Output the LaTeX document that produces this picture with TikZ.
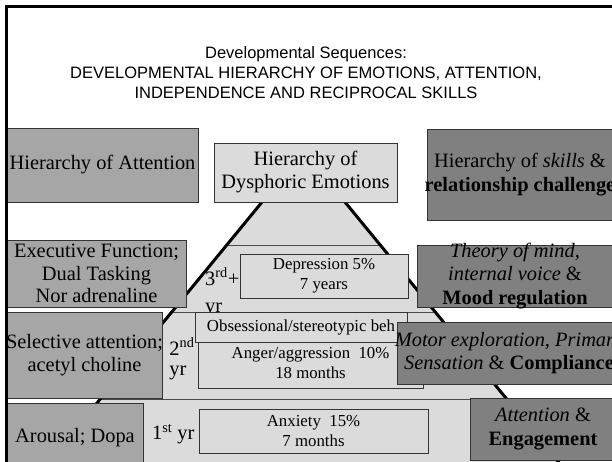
\documentclass[tikz,border=0pt]{standalone}
\usepackage{fontspec}
\setmainfont{Liberation Serif}
\newfontfamily\headfont{Liberation Sans}
\usepackage{tikz}
\usetikzlibrary{positioning, calc}
\definecolor{pyrgrey}{rgb}{0.86,0.86,0.86}
\definecolor{midgrey}{rgb}{0.65,0.65,0.65}
\definecolor{drkgrey}{rgb}{0.5,0.5,0.5}
\tikzstyle{pg}=[%
      rectangle, draw=black!80, line width=0.8pt, fill=pyrgrey,
      inner sep=0pt, align=center, font=\fontsize{16.8}{20}\selectfont
]
\tikzstyle{lg}=[%
      rectangle, draw=black!80, line width=0.8pt, fill=midgrey,
      inner xsep=-1pt, inner ysep=0pt, align=center, font=\fontsize{20.4}{22.5}\selectfont
]
\tikzstyle{dg}=[%
      rectangle, draw=black!80, line width=0.8pt, fill=drkgrey,
      inner xsep=-3pt, inner ysep=-2pt, align=center, font=\fontsize{20.4}{23.5}\selectfont
]
\tikzstyle{yl}=[%
      inner sep=0pt, align=left, font=\fontsize{20.4}{23}\selectfont
]
\tikzstyle{hd}=[%
      inner sep=0pt, align=center, font=\headfont\fontsize{16.5}{20}\selectfont
]

\begin{document}
\begin{tikzpicture}[x=1pt, y=-1pt]
    \useasboundingbox (0,0) rectangle (612,461);
    \clip (0,0) rectangle (612,461);
    \fill[white] (0,0) rectangle (612,461);

    % pyramid with its layers
    \coordinate (pyrTL) at (267,196);
    \coordinate (pyrTR) at (340,196);
    \coordinate (pyrBR) at (565,470);
    \coordinate (pyrBL) at (42,470);
    \fill[pyrgrey] (pyrTL) -- (pyrTR) -- (pyrBR) -- (pyrBL) -- cycle;
    \begin{scope}
      \clip (pyrTL) -- (pyrTR) -- (pyrBR) -- (pyrBL) -- cycle;
      \foreach \ly in {245,312,399}
        \draw[black!70, line width=0.8pt] (0,\ly) -- (612,\ly);
    \end{scope}
    \draw[line width=3pt] (pyrTL) -- (pyrBL);
    \draw[line width=3pt] (pyrTR) -- (pyrBR);

    \node[yl, anchor=west] (yrThree) at (205,292) {3\textsuperscript{rd}+\\[4pt]yr};

    \node[pg, minimum width=168, minimum height=44] (depr) at (324,276) {Depression 5\%\\7 years};
    \node[pg, minimum width=225, minimum height=50] (angr) at (310.5,363) {Anger/aggression\ \ 10\%\\18 months};
    \node[pg, minimum width=212, minimum height=30] (obss) at (301,327) {Obsessional/stereotypic beh};
    \node[pg, minimum width=229, minimum height=44] (anx)  at (313.5,431) {Anxiety\ \ 15\%\\7 months};
    \node[pg, font=\fontsize{20.4}{23}\selectfont, minimum width=183, minimum height=59] (dysph) at (305.5,172.5) {Hierarchy of\\Dysphoric Emotions};

    \node[yl] (yrTwo) [left=3pt of angr, yshift=4pt] {2\textsuperscript{nd}\\[-3pt]yr};
    \node[yl] (yrOne) [left=4pt of anx, yshift=-3pt] {1\textsuperscript{st} yr};

    % attention side
    \node[lg, minimum width=191, minimum height=74] (attnH) at (102.5,165) {Hierarchy of Attention};
    \node[lg, minimum width=179, minimum height=67] (execF) at (96.5,273.5) {Executive Function;\\Dual Tasking\\Nor adrenaline};
    \node[lg, minimum width=155, minimum height=86] (selA)  at (84.5,355) {Selective attention;\\acetyl choline};
    \node[lg, minimum width=136, minimum height=70] (arsl)  at (75,438) {Arousal; Dopa};

    % skills side
    \node[dg, minimum width=186, minimum height=91] (skls) at (520,174.5) {Hierarchy of \textit{skills} \&\\\textbf{relationship challenge}};
    \node[dg, minimum width=196, minimum height=62] (thry) at (515,276) {\textit{Theory of mind,}\\\textit{internal voice} \&\\\textbf{Mood regulation}};
    \node[dg, minimum width=224, minimum height=62] (motr) at (509,353) {\textit{Motor exploration, Primary}\\\textit{Sensation} \& \textbf{Compliance}};
    \node[dg, minimum width=146, minimum height=62] (engm) at (543,429) {\textit{Attention} \&\\\textbf{Engagement}};

    \node[hd, anchor=north] (ttl) at (306,46) {Developmental Sequences:\\DEVELOPMENTAL HIERARCHY OF EMOTIONS, ATTENTION,\\INDEPENDENCE AND RECIPROCAL SKILLS};

    \draw[line width=3.2pt] (6.5,470) -- (6.5,6.5) -- (620,6.5);
\end{tikzpicture}
\end{document}
